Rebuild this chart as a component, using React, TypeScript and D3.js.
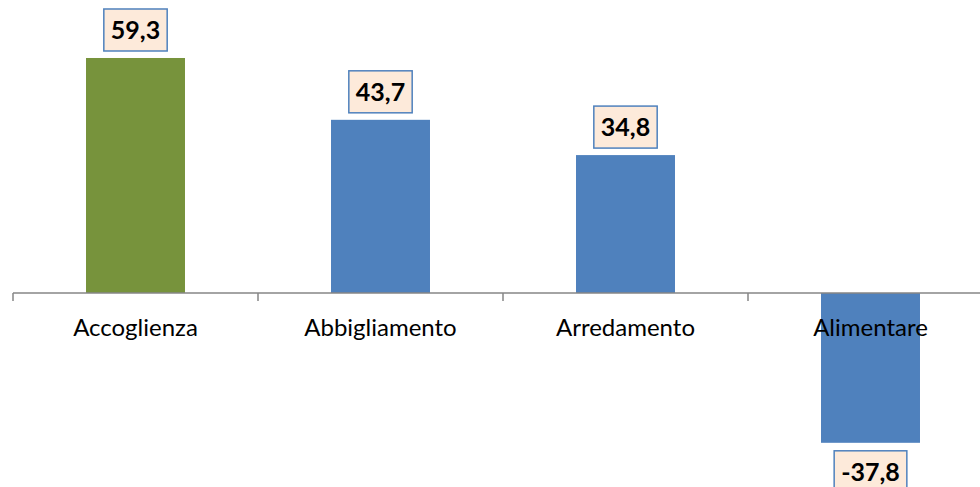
import React, { useEffect, useRef } from "react";
import * as d3 from "d3";

const categories = ["Accoglienza", "Abbigliamento", "Arredamento", "Alimentare"];
const values = [59.3, 43.7, 34.8, -37.8];
const barColors = ["#77933C", "#4F81BD", "#4F81BD", "#4F81BD"];

const W = 980;
const H = 487;

export default function App() {
  const ref = useRef<SVGSVGElement>(null);

  useEffect(() => {
    const svg = d3.select(ref.current);
    svg.selectAll("*").remove();

    const x = d3.scaleBand<string>().domain(categories).range([13, 993]).padding(0);
    const y = d3.scaleLinear().domain([-40, 60]).range([293 + 40 * 3.963, 293 - 60 * 3.963]);
    const bw = x.bandwidth() * 0.404;
    const y0 = y(0);

    const g = svg.append("g");

    g.selectAll("rect.bar")
      .data(values)
      .enter()
      .append("rect")
      .attr("class", "bar")
      .attr("x", (_, i) => x(categories[i])! + x.bandwidth() / 2 - bw / 2)
      .attr("width", bw)
      .attr("y", (d) => Math.min(y(d), y0))
      .attr("height", (d) => Math.abs(y(d) - y0))
      .attr("fill", (_, i) => barColors[i]);

    // axis
    g.append("line")
      .attr("x1", 13).attr("x2", W)
      .attr("y1", y0).attr("y2", y0)
      .attr("stroke", "#868686").attr("stroke-width", 1.5);
    const ticks = categories.map((c) => x(c)!).concat([x.range()[1]]);
    g.selectAll("line.tick")
      .data(ticks)
      .enter()
      .append("line")
      .attr("x1", (d) => d).attr("x2", (d) => d)
      .attr("y1", y0).attr("y2", y0 + 8)
      .attr("stroke", "#868686").attr("stroke-width", 1.5);

    // category labels
    g.selectAll("text.cat")
      .data(categories)
      .enter()
      .append("text")
      .attr("x", (d) => x(d)! + x.bandwidth() / 2)
      .attr("y", 336)
      .attr("text-anchor", "middle")
      .attr("font-family", "Lato, 'Open Sans', sans-serif")
      .attr("font-size", 24)
      .attr("fill", "#000")
      .text((d) => d);

    // value labels
    values.forEach((v, i) => {
      const cx = x(categories[i])! + x.bandwidth() / 2;
      const lg = g.append("g");
      const rect = lg.append("rect");
      const label = v.toFixed(1).replace(".", ",");
      const t = lg.append("text")
        .attr("x", cx)
        .attr("text-anchor", "middle")
        .attr("font-family", "Lato, 'Open Sans', sans-serif")
        .attr("font-weight", "bold")
        .attr("font-size", 25)
        .attr("fill", "#000")
        .text(label);
      const tw = (t.node() as SVGTextElement).getComputedTextLength();
      const bwBox = tw + 14;
      const bh = 42;
      const top = v >= 0 ? y(v) - 7 - bh : y(v) + 8;
      rect
        .attr("x", cx - bwBox / 2)
        .attr("y", top)
        .attr("width", bwBox)
        .attr("height", bh)
        .attr("fill", "#FDEADA")
        .attr("stroke", "#4F81BD")
        .attr("stroke-width", 1.5);
      t.attr("y", top + 30);
    });
  }, []);

  return (
    <svg
      ref={ref}
      width={W}
      height={H}
      style={{ position: "absolute", left: 0, top: 0, background: "#fff" }}
    />
  );
}
